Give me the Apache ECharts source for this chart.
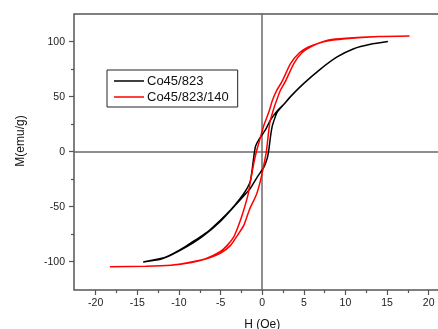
<!DOCTYPE html>
<html>
<head>
<meta charset="utf-8">
<script src="https://cdn.jsdelivr.net/npm/echarts@6/dist/echarts.min.js"></script>
<style>html,body{margin:0;padding:0;background:#fff}#c{width:438px;height:329px}</style>
</head>
<body>
<div id="c"></div>
<script>
// Co45/823 (black) loop: descending branch then ascending branch
var blackDescH = [15.1, 13, 11, 9, 7, 5, 3.4, 2.6, 1.8, 1.0, 0.4, -0.4, -0.8, -1.0, -1.2, -1.4, -1.8, -2.6, -3.8, -5, -6.6, -8, -9, -10, -11.4, -12.2, -14.3];
var blackDescM = [100, 97.5, 93.5, 86, 75, 62, 50, 43, 37, 29, 20, 11, 5, -4, -16, -26, -33, -42, -53, -62, -73, -80, -85, -89.5, -95, -97, -100];
var blackAscH = [-14.3, -12.2, -11, -9, -7, -5, -3.4, -2.2, -1.4, -0.6, 0.2, 0.6, 0.8, 1.0, 1.2, 1.4, 1.8, 2.6, 3.4, 5, 7, 9, 11, 13, 15.1];
var blackAscM = [-100, -97.5, -94, -86, -76, -63, -50, -40, -33, -23, -14, -6, 2, 14, 23, 28, 36, 43, 50, 62, 75, 86, 93.5, 97.5, 100];

// Co45/823/140 (red) loop
var redDescH = [17.7, 14, 10, 8, 6.8, 5.5, 4.5, 3.4, 2.4, 1.7, 1.2, 0.8, 0.2, -0.4, -0.7, -1.0, -1.4, -1.7, -2.3, -2.8, -3.4, -4.2, -5.1, -6.8, -8.5, -11, -14, -18.3];
var redDescM = [105, 104.5, 103, 101.5, 98.5, 95, 90, 80, 64, 55, 46, 36, 24, 8, 0, -10, -26, -39, -55, -66, -77, -85, -91, -97, -100, -103, -104, -104.5];
var redAscH = [-18.3, -14, -11, -8.5, -6.8, -5, -3.8, -2.8, -2.2, -1.5, -0.7, -0.2, 0.2, 0.5, 0.9, 1.3, 1.7, 2.2, 2.8, 3.8, 4.8, 6, 7.5, 10, 14, 17.7];
var redAscM = [-104.5, -104, -103, -100.5, -97.5, -92, -85, -74, -66.6, -52, -39, -26, -12, 0, 25.8, 37, 46, 56, 64, 80, 90, 96, 100, 102.5, 104.5, 105];

var seriesNames = ['Co45/823', 'Co45/823/140'];
var xTickLabels = [-20, -15, -10, -5, 0, 5, 10, 15, 20];
var yTickLabels = [-100, -50, 0, 50, 100];

function zip(h, m) { var out = []; for (var i = 0; i < h.length; i++) out.push([h[i], m[i]]); return out; }
var blackData = zip(blackDescH, blackDescM).concat(zip(blackAscH, blackAscM));
var redData = zip(redDescH, redDescM).concat(zip(redAscH, redAscM));

var FONT = '"Liberation Sans", Arial, sans-serif';
var AX = '#555';
var chart = echarts.init(document.getElementById('c'), null, {renderer: 'canvas'});
chart.setOption({
  animation: false,
  backgroundColor: '#fff',
  grid: [
    {left: 74, top: 14, right: -2, bottom: 39, show: true, borderColor: AX, borderWidth: 1.5, backgroundColor: 'transparent', outerBoundsMode: 'none', containLabel: false},
    {left: 95.7, top: 14, right: 9.3, bottom: 39, outerBoundsMode: 'none', containLabel: false},
    {left: 74, top: 41.7, right: -2, bottom: 67.3, outerBoundsMode: 'none', containLabel: false}
  ],
  legend: {
    left: 107, top: 70, orient: 'vertical',
    data: [{name: seriesNames[0], icon: 'rect'}, {name: seriesNames[1], icon: 'rect'}],
    itemWidth: 30, itemHeight: 1.5, itemGap: 0,
    padding: [3, 9, 2, 7],
    borderColor: '#222', borderWidth: 1, borderRadius: 0,
    textStyle: {fontFamily: FONT, fontSize: 13, lineHeight: 16, color: '#111', padding: [0, 0, 0, -2]}
  },
  xAxis: [
    {gridIndex: 0, type: 'value', min: -22.61, max: 21.36,
     axisLine: {show: true, onZero: true, lineStyle: {color: '#6a6a6a', width: 1.5}},
     axisTick: {show: false}, axisLabel: {show: false}, splitLine: {show: false}},
    {gridIndex: 1, type: 'value', min: -20, max: 20, interval: 5,
     axisLine: {show: false, onZero: false},
     axisTick: {show: true, length: 5, lineStyle: {color: AX, width: 1.2}},
     minorTick: {show: true, splitNumber: 2, length: 3, lineStyle: {color: AX, width: 1.2}},
     axisLabel: {show: true, margin: 8, fontFamily: FONT, fontSize: 10.5, color: '#222',
       formatter: function (v) { return xTickLabels.indexOf(v) >= 0 ? String(v) : ''; }},
     splitLine: {show: false},
     name: 'H (Oe)', nameLocation: 'middle', nameGap: 29,
     nameTextStyle: {fontFamily: FONT, fontSize: 12, color: '#111'}},
    {gridIndex: 2, type: 'value', show: false, min: 0, max: 1}
  ],
  yAxis: [
    {gridIndex: 0, type: 'value', min: -125.5, max: 125,
     axisLine: {show: true, onZero: true, lineStyle: {color: '#6a6a6a', width: 1.5}},
     axisTick: {show: false}, axisLabel: {show: false}, splitLine: {show: false}},
    {gridIndex: 1, type: 'value', show: false, min: 0, max: 1},
    {gridIndex: 2, type: 'value', min: -100, max: 100, interval: 50,
     axisLine: {show: false, onZero: false},
     axisTick: {show: true, length: 5, lineStyle: {color: AX, width: 1.2}},
     minorTick: {show: true, splitNumber: 2, length: 3, lineStyle: {color: AX, width: 1.2}},
     axisLabel: {show: true, margin: 9, fontFamily: FONT, fontSize: 10.5, color: '#222',
       formatter: function (v) { return yTickLabels.indexOf(v) >= 0 ? String(v) : ''; }},
     splitLine: {show: false}}
  ],
  graphic: [
    {type: 'text', x: 21, y: 141, rotation: Math.PI / 2,
     style: {text: 'M(emu/g)', font: '12px ' + FONT, fill: '#111', align: 'center', verticalAlign: 'middle'}}
  ],
  series: [
    {name: seriesNames[0], type: 'line', xAxisIndex: 0, yAxisIndex: 0, data: blackData,
     symbol: 'none', smooth: 0.2, lineStyle: {color: '#000', width: 1.5}, itemStyle: {color: '#000'}, z: 3},
    {name: seriesNames[1], type: 'line', xAxisIndex: 0, yAxisIndex: 0, data: redData,
     symbol: 'none', smooth: 0.2, lineStyle: {color: '#ff0000', width: 1.5}, itemStyle: {color: '#ff0000'}, z: 4}
  ]
});
</script>
</body>
</html>
